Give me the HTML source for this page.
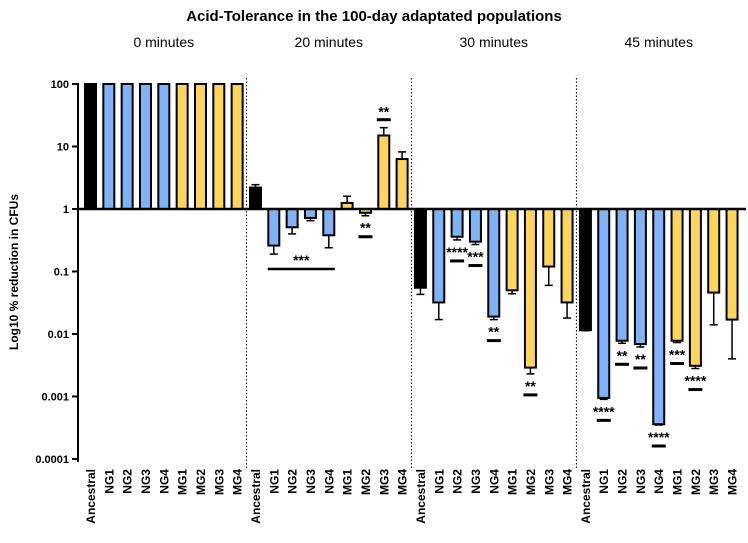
<!DOCTYPE html>
<html><head><meta charset="utf-8"><style>
body{margin:0;background:#fff}
svg text{font-family:"Liberation Sans",Arial,sans-serif;font-weight:bold;fill:#000}
</style></head><body>
<svg id="c" width="748" height="538"></svg>
<script>
const groups=["0 minutes","20 minutes","30 minutes","45 minutes"];
const categories=["Ancestral","NG1","NG2","NG3","NG4","MG1","MG2","MG3","MG4"];
const values0=[100,100,100,100,100,100,100,100,100];
const values20=[2.2,0.26,0.51,0.72,0.38,1.25,0.87,15,6.3];
const values30=[0.055,0.032,0.36,0.3,0.019,0.05,0.0029,0.12,0.032];
const values45=[0.0115,0.00095,0.0078,0.0069,0.00036,0.0078,0.0031,0.046,0.017];
const err20=[2.45,0.19,0.40,0.65,0.24,1.6,0.78,20,8.2];
const err30=[0.043,0.017,0.32,0.27,0.017,0.044,0.0023,0.06,0.018];
const err45=[0.0113,0.0009,0.0071,0.0062,0.00035,0.0073,0.0028,0.014,0.004];
const yTicks=[100,10,1,0.1,0.01,0.001,0.0001];
const yTickLabels=["100","10","1","0.1","0.01","0.001","0.0001"];
const sigBars=[[15,"**"],[16,"**"],[20,"****"],[21,"***"],[22,"**"],[24,"**"],[28,"****"],[29,"**"],[30,"**"],[31,"****"],[32,"***"],[33,"****"]];

const NS="http://www.w3.org/2000/svg",svg=document.getElementById('c');
function el(t,a,p){const e=document.createElementNS(NS,t);for(const k in a)e.setAttribute(k,a[k]);(p||svg).appendChild(e);return e;}
const y=v=>209-Math.log10(v)*62.5;
const x=i=>90.5+i*18.33;
const colors=["#000","#7fb2f6","#7fb2f6","#7fb2f6","#7fb2f6","#fdd55c","#fdd55c","#fdd55c","#fdd55c"];
const vals=[values0,values20,values30,values45].flat();
const errs=[values0,err20,err30,err45].flat();

let t=el('text',{x:374,y:21,'text-anchor':'middle','font-size':15});t.textContent="Acid-Tolerance in the 100-day adaptated populations";

groups.forEach((g,k)=>{const gt=el('text',{x:x(k*9+4),y:47,'text-anchor':'middle','font-size':14,style:'font-weight:normal'});gt.textContent=g;

if(k>0){const d=el('line',{x1:x(k*9)-9,x2:x(k*9)-9,y1:78,y2:470,stroke:'#000','stroke-width':1,'stroke-dasharray':'1.5,2'});}});

vals.forEach((v,i)=>{const c=i%9,cx=x(i);
 const e=errs[i];
 if(v!==100&&e!==v){const ey=y(e);const ln=el('line',{x1:cx,x2:cx,y1:y(v),y2:ey,stroke:'#000','stroke-width':1.5});
 const cap=el('line',{x1:cx-4,x2:cx+4,y1:ey,y2:ey,stroke:'#000','stroke-width':1.5});}
 const y0=209,y1=y(v);
 const r=el('rect',{x:cx-5.5,y:Math.min(y0,y1),width:11,height:Math.abs(y1-y0),fill:colors[c],stroke:'#000','stroke-width':2});
 
 const lt=el('text',{transform:`translate(${cx+4.5},469) rotate(-90)`,'font-size':12,'text-anchor':'end'});lt.textContent=categories[c];
 
});
sigBars.forEach(([i,s])=>{const v=vals[i];if(v>1){const ey=y(errs[i])-8;const l=el('line',{x1:x(i)-7,x2:x(i)+7,y1:ey,y2:ey,stroke:'#000','stroke-width':3});const st=el('text',{x:x(i),y:ey-3,'text-anchor':'middle','font-size':14});st.textContent=s;return;}
 const ey=Math.max(y(v),y(errs[i]))+3;const st=el('text',{x:x(i),y:ey+14,'text-anchor':'middle','font-size':14});st.textContent=s;
 const l=el('line',{x1:x(i)-7,x2:x(i)+7,y1:ey+18,y2:ey+18,stroke:'#000','stroke-width':3});});
{const st=el('text',{x:(x(10)+x(13))/2,y:265,'text-anchor':'middle','font-size':14});st.textContent="***";
const l=el('line',{x1:x(10)-6,x2:x(13)+6,y1:269,y2:269,stroke:'#000','stroke-width':2.5});}

const ax=el('line',{x1:78,x2:78,y1:83,y2:462,stroke:'#000','stroke-width':2});
const bl=el('line',{x1:77,x2:746,y1:209,y2:209,stroke:'#000','stroke-width':2.5});
yTicks.forEach((v,k)=>{const ty=y(v);const tk=el('line',{x1:72,x2:78,y1:ty,y2:ty,stroke:'#000','stroke-width':2});
 const tl=el('text',{x:69,y:ty+4,'text-anchor':'end','font-size':11});tl.textContent=yTickLabels[k];});
const yt=el('text',{transform:'translate(18,272) rotate(-90)','text-anchor':'middle','font-size':12});yt.textContent="Log10 % reduction in CFUs";

</script></body></html>
